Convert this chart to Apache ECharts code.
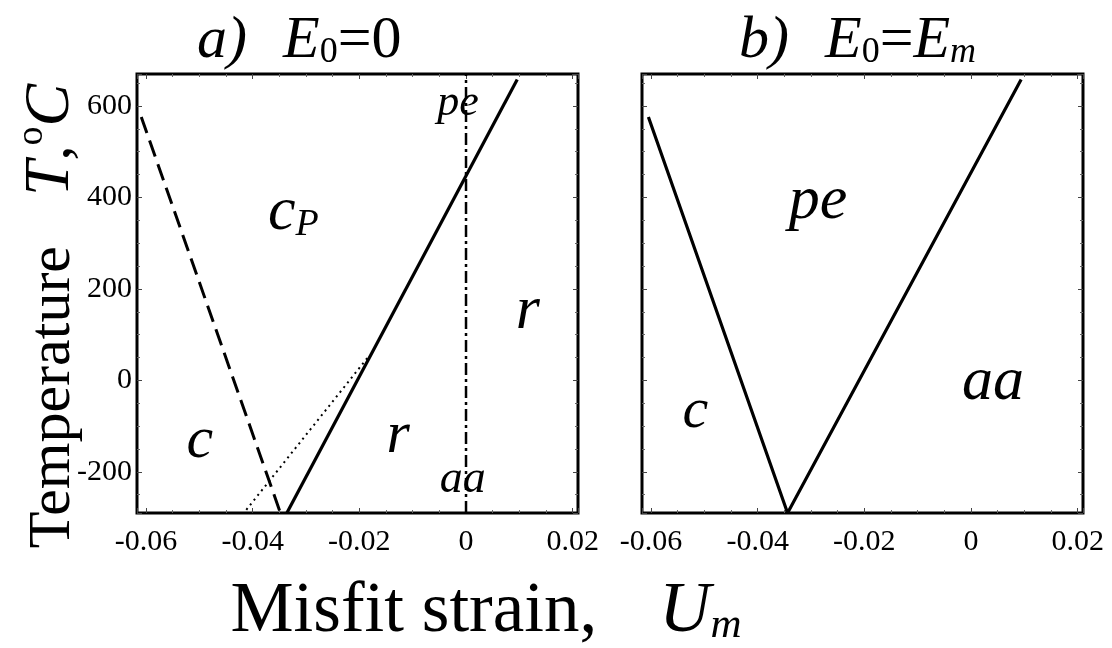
<!DOCTYPE html>
<html>
<head>
<meta charset="utf-8">
<script src="https://cdn.jsdelivr.net/npm/echarts@6/dist/echarts.min.js"></script>
<style>
  html, body { margin: 0; padding: 0; background: #fff; }
  #chart { width: 1112px; height: 648px; }
</style>
</head>
<body>
<div id="chart"></div>
<script>
// Axis ranges shared by both panels (misfit strain, temperature in °C)
const strainRange = [-0.0617, 0.021];
const tempRange = [-290, 670];

// Panel a) E0 = 0 : phase boundaries
const cBoundaryA = [[-0.0609, 576], [-0.0348, -290]];      // dashed c / cP
const rBoundaryA = [[-0.0336, -290], [0.0096, 658]];       // solid cP / r
const metastableA = [[-0.0412, -283], [-0.0183, 52]];      // dotted
const aaBoundaryA = [[0, -290], [0, 670]];                 // dash-dot r / aa

// Panel b) E0 = Em : phase boundaries
const boundaryB = [[-0.0605, 576], [-0.0344, -290], [0.0094, 658]];

// Phase labels: [strain, temperature, text, size]
const phaseLabelsA = [
  [-0.0015, 606, '{i|pe}', 44],
  [-0.0324, 366, '{i|c}{s|P}', 62],
  [0.0116, 150, '{i|r}', 62],
  [-0.0499, -134, '{i|c}', 60],
  [-0.0127, -123, '{i|r}', 60],
  [-0.0006, -217, '{i|aa}', 46]
];
const phaseLabelsB = [
  [-0.0287, 390, '{i|pe}', 62],
  [0.0041, -6, '{i|aa}', 62],
  [-0.0517, -68, '{i|c}', 58]
];

const serif = '"Liberation Serif", "DejaVu Serif", serif';
const black = '#000';

function grid(left) {
  return { left: left, top: 74, width: 441, height: 439, show: true,
           borderColor: black, borderWidth: 3, backgroundColor: '#fff' };
}

const tickStyle = { show: true, inside: true, length: 5, lineStyle: { color: '#444', width: 1 } };
const minorStyle = { show: true, splitNumber: 4, length: 3, lineStyle: { color: '#666', width: 1 } };

function xAxes(gi) {
  const common = {
    type: 'value', gridIndex: gi, min: strainRange[0], max: strainRange[1],
    splitNumber: 4, splitLine: { show: false }, axisLine: { show: false, onZero: false },
    axisTick: tickStyle, minorTick: minorStyle, minorSplitLine: { show: false }
  };
  return [
    Object.assign({}, common, { position: 'bottom',
      axisLabel: { show: true, fontFamily: serif, fontSize: 30, color: black, margin: 14,
                   showMinLabel: false, showMaxLabel: false,
                   formatter: v => (Math.abs(v) < 1e-9 ? '0' : String(+v.toFixed(2))) } }),
    Object.assign({}, common, { position: 'top', axisLabel: { show: false } })
  ];
}

function yAxes(gi, labels) {
  const common = {
    type: 'value', gridIndex: gi, min: tempRange[0], max: tempRange[1],
    splitNumber: 4, splitLine: { show: false }, axisLine: { show: false, onZero: false },
    axisTick: tickStyle, minorTick: minorStyle, minorSplitLine: { show: false }
  };
  return [
    Object.assign({}, common, { position: 'left',
      axisLabel: { show: labels, fontFamily: serif, fontSize: 30, color: black, margin: 5,
                   showMinLabel: false, showMaxLabel: false } }),
    Object.assign({}, common, { position: 'right', axisLabel: { show: false } })
  ];
}

function boundary(data, xi, yi, type, width) {
  return { type: 'line', xAxisIndex: xi, yAxisIndex: yi, data: data, symbol: 'none',
           silent: true, clip: true, z: 3,
           lineStyle: { color: black, width: width, type: type, cap: 'butt' } };
}

function labelSeries(data, xi, yi) {
  return data.map(d => ({
    type: 'scatter', xAxisIndex: xi, yAxisIndex: yi, symbolSize: 0, silent: true, z: 4,
    itemStyle: { opacity: 1 },
    data: [[d[0], d[1]]],
    label: {
      show: true, position: 'inside', formatter: d[2], color: black, opacity: 1, textBorderWidth: 0,
      rich: {
        i: { fontFamily: serif, fontStyle: 'italic', fontSize: d[3], color: black,
             lineHeight: d[3], verticalAlign: 'top', textBorderWidth: 0 },
        s: { fontFamily: serif, fontStyle: 'italic', fontSize: Math.round(d[3] * 0.62), color: black,
             lineHeight: Math.round(d[3] * 0.62), verticalAlign: 'bottom', textBorderWidth: 0,
             padding: [Math.round(d[3] * 0.55), 0, 0, 0] }
      }
    }
  }));
}

const titleRich = {
  it: { fontFamily: serif, fontStyle: 'italic', fontWeight: 'normal', fontSize: 60, color: black, lineHeight: 60, verticalAlign: 'top' },
  n: { fontFamily: serif, fontWeight: 'normal', fontSize: 60, color: black, lineHeight: 60, verticalAlign: 'top' },
  gap: { fontFamily: serif, fontWeight: 'normal', fontSize: 60, lineHeight: 60, verticalAlign: 'top', width: 36 },
  sub: { fontFamily: serif, fontWeight: 'normal', fontSize: 36, color: black, lineHeight: 36, verticalAlign: 'bottom', padding: [34, 0, 0, 0] },
  subi: { fontFamily: serif, fontStyle: 'italic', fontWeight: 'normal', fontSize: 36, color: black, lineHeight: 36, verticalAlign: 'bottom', padding: [34, 0, 0, 0] }
};

const chart = echarts.init(document.getElementById('chart'), null, { renderer: 'canvas' });

chart.setOption({
  backgroundColor: '#fff',
  animation: false,
  title: [
    { text: '{it|a)}{gap| }{it|E}{sub|0}{n|=0}', left: 192, top: 6,
      textStyle: { fontWeight: 'normal', rich: titleRich } },
    { text: '{it|b)}{gap| }{it|E}{sub|0}{n|=}{it|E}{subi|m}', left: 734, top: 6,
      textStyle: { fontWeight: 'normal', rich: titleRich } }
  ],
  grid: [grid(137), grid(642)],
  xAxis: [].concat(xAxes(0), xAxes(1)),
  yAxis: [].concat(yAxes(0, true), yAxes(1, false)),
  series: [
    boundary(cBoundaryA, 0, 0, [17, 8], 3),
    boundary(rBoundaryA, 0, 0, 'solid', 3.2),
    boundary(metastableA, 0, 0, [2, 4], 2),
    boundary(aaBoundaryA, 0, 0, [12, 4, 3, 4], 2.5),
    boundary(boundaryB, 2, 2, 'solid', 3.2)
  ].concat(labelSeries(phaseLabelsA, 0, 0), labelSeries(phaseLabelsB, 2, 2)),
  graphic: [
    {
      type: 'text', x: 48, y: 316, rotation: Math.PI / 2, z: 10,
      style: {
        text: '{n|Temperature}{gap| }{it|T}{n|,}{sup|o}{it|C}',
        align: 'center', verticalAlign: 'middle',
        rich: {
          n: { fontFamily: serif, fontSize: 60, color: black, lineHeight: 70, verticalAlign: 'bottom' },
          gap: { fontFamily: serif, fontSize: 60, lineHeight: 70, verticalAlign: 'bottom', width: 50 },
          it: { fontFamily: serif, fontStyle: 'italic', fontSize: 64, color: black, lineHeight: 70, verticalAlign: 'bottom' },
          sup: { fontFamily: serif, fontSize: 38, color: black, lineHeight: 38, verticalAlign: 'top' }
        }
      }
    },
    {
      type: 'text', x: 486, y: 612, z: 10,
      style: {
        text: '{n|Misfit strain,}{gap| }{it|U}{sub|m}',
        align: 'center', verticalAlign: 'middle',
        rich: {
          n: { fontFamily: serif, fontSize: 71, color: black, lineHeight: 71, verticalAlign: 'top' },
          gap: { fontFamily: serif, fontSize: 71, lineHeight: 71, verticalAlign: 'top', width: 62 },
          it: { fontFamily: serif, fontStyle: 'italic', fontSize: 71, color: black, lineHeight: 71, verticalAlign: 'top' },
          sub: { fontFamily: serif, fontStyle: 'italic', fontSize: 43, color: black, lineHeight: 43, verticalAlign: 'bottom', padding: [39, 0, 0, 0] }
        }
      }
    }
  ]
});
</script>
</body>
</html>
